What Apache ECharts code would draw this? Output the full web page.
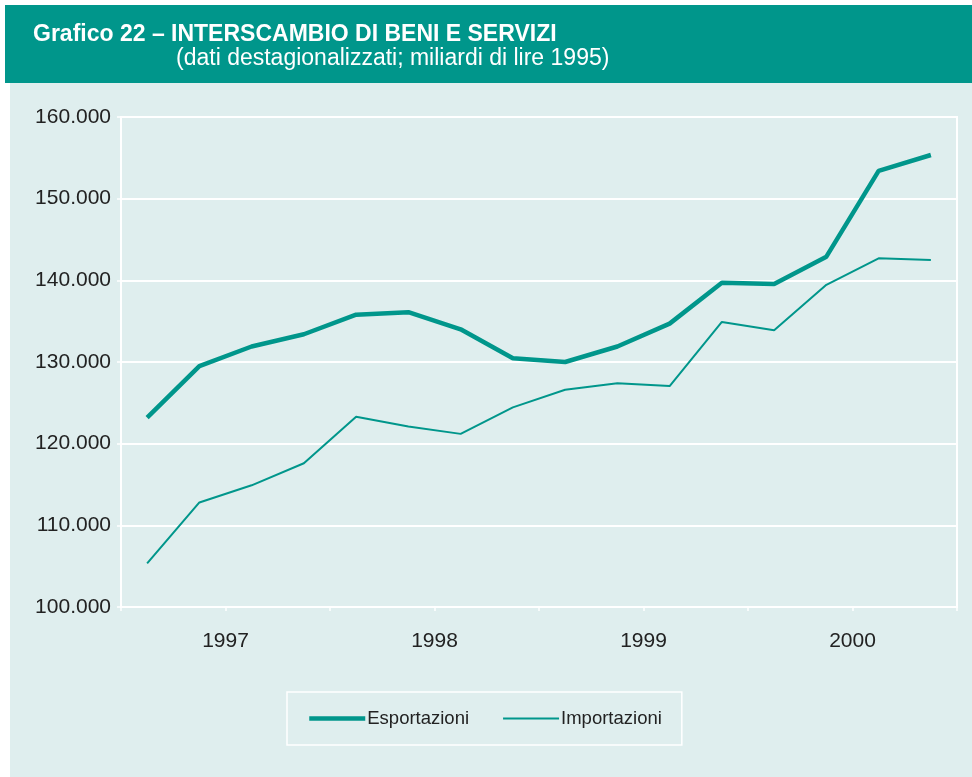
<!DOCTYPE html>
<html>
<head>
<meta charset="utf-8">
<script src="https://cdn.jsdelivr.net/npm/echarts@6/dist/echarts.min.js"></script>
<style>
  html, body { margin: 0; padding: 0; background: #fff; }
  #chart { width: 972px; height: 777px; }
</style>
</head>
<body>
<div id="chart"></div>
<script>
  // quarters, 1996 Q3 .. 2000 Q2
  var quarters = ['1996T3', '1996T4', '1997T1', '1997T2', '1997T3', '1997T4',
    '1998T1', '1998T2', '1998T3', '1998T4', '1999T1', '1999T2', '1999T3', '1999T4',
    '2000T1', '2000T2']
  // year labels sit on the boundary where each year starts
  var yearLabels = { 2: '1997', 6: '1998', 10: '1999', 14: '2000' }

  var esportazioni = [123200, 129500, 131900, 133400, 135800, 136100, 134000, 130450,
    130000, 131900, 134700, 139700, 139550, 142900, 153400, 155350]
  var importazioni = [105350, 112800, 114900, 117600, 123300, 122100, 121200, 124450,
    126600, 127400, 127050, 134900, 133900, 139450, 142700, 142500]

  var teal = '#00968b'
  var font = 'Liberation Sans, Arial, sans-serif'

  var chart = echarts.init(document.getElementById('chart'))

  chart.setOption({
    animation: false,
    backgroundColor: '#ffffff',
    graphic: [
      { type: 'rect', z: -10, shape: { x: 5, y: 5, width: 967, height: 78 }, style: { fill: '#00968b' } },
      { type: 'rect', z: -10, shape: { x: 10, y: 83, width: 962, height: 694 }, style: { fill: '#dfeeee' } },
      {
        type: 'text', left: 33, top: 23,
        style: { text: 'Grafico 22 – INTERSCAMBIO DI BENI E SERVIZI', fill: '#fff', font: 'bold 23px ' + font }
      },
      {
        type: 'text', left: 176, top: 47,
        style: { text: '(dati destagionalizzati; miliardi di lire 1995)', fill: '#fff', font: '23px ' + font }
      }
    ],
    grid: {
      left: 121, right: 15, top: 117, bottom: 170,
      show: true, borderColor: '#fff', borderWidth: 2, backgroundColor: 'transparent'
    },
    legend: {
      left: 287, top: 692,
      padding: [17, 20, 17, 20],
      borderColor: '#fff', borderWidth: 1.5,
      itemWidth: 56, itemHeight: 14, itemGap: 33,
      textStyle: { fontSize: 18.5, fontFamily: font, color: '#222', padding: [0, 0, 0, -3] },
      data: [
        { name: 'Esportazioni', lineStyle: { width: 4.5 }, itemStyle: { opacity: 0 } },
        { name: 'Importazioni', lineStyle: { width: 2 }, itemStyle: { opacity: 0 } }
      ]
    },
    xAxis: [
      {
        type: 'category',
        data: quarters,
        boundaryGap: true,
        axisLine: { lineStyle: { color: '#fff', width: 2 } },
        axisTick: { show: true, length: 4, lineStyle: { color: '#fff', width: 1.5 } },
        axisLabel: { show: false },
        splitLine: { show: false }
      },
      {
        type: 'value',
        position: 'bottom',
        min: 0, max: quarters.length, interval: 1,
        axisLine: { show: false },
        axisTick: { show: false },
        splitLine: { show: false },
        axisLabel: {
          margin: 24,
          fontSize: 21, fontFamily: font, color: '#222',
          formatter: function (v) { return yearLabels[v] || '' }
        }
      }
    ],
    yAxis: {
      type: 'value',
      min: 100000, max: 160000, interval: 10000,
      axisLine: { show: true, lineStyle: { color: '#fff', width: 2 } },
      axisTick: { show: true, length: 4, lineStyle: { color: '#fff', width: 1.5 } },
      splitLine: { lineStyle: { color: '#fff', width: 2 } },
      axisLabel: {
        margin: 10,
        fontSize: 21, fontFamily: font, color: '#222',
        formatter: function (v) { return String(v / 1000) + '.000' }
      }
    },
    series: [
      {
        name: 'Esportazioni', type: 'line', data: esportazioni,
        symbol: 'none', lineStyle: { color: teal, width: 4.5 }, itemStyle: { color: teal }
      },
      {
        name: 'Importazioni', type: 'line', data: importazioni,
        symbol: 'none', lineStyle: { color: teal, width: 2 }, itemStyle: { color: teal }
      }
    ]
  })
</script>
</body>
</html>
